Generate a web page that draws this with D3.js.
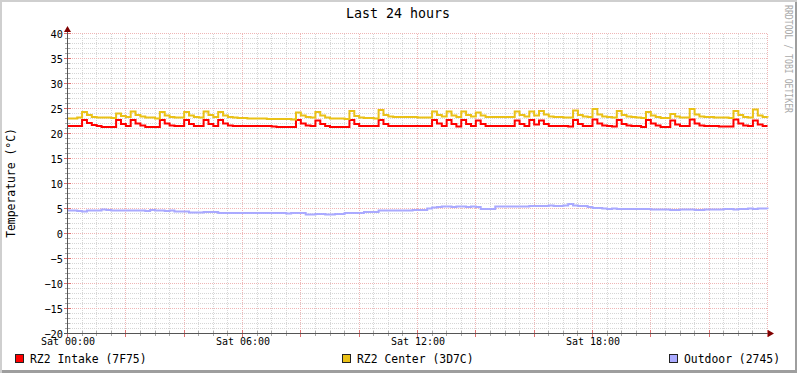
<!DOCTYPE html>
<html>
<head>
<meta charset="utf-8">
<script src="https://cdn.jsdelivr.net/npm/d3@7"></script>
<style>
  body { margin: 0; background: #fff; }
  svg text { font-family: "DejaVu Sans Mono", monospace; }
</style>
</head>
<body>
<svg width="797" height="373"></svg>
<script>
// 10 minute samples, Sat 00:00 -> Sun 00:00
var intake = [
  21.5, 21.5, 21.5, 22.7, 22.1, 21.7, 21.5, 21.3, 21.3, 21.3,
  22.7, 21.9, 21.5, 22.7, 22.0, 21.6, 21.3, 21.3, 21.3, 22.7,
  22.0, 21.6, 21.5, 21.5, 22.7, 21.9, 21.5, 21.5, 22.7, 21.9,
  21.5, 22.7, 22.0, 21.6, 21.5, 21.5, 21.5, 21.5, 21.5, 21.5,
  21.5, 21.5, 21.4, 21.3, 21.3, 21.3, 21.3, 22.7, 22.0, 21.6,
  21.5, 22.6, 21.9, 21.5, 21.3, 21.3, 21.3, 21.3, 22.7, 21.9,
  21.5, 21.5, 21.5, 21.5, 22.7, 21.9, 21.5, 21.5, 21.5, 21.5,
  21.5, 21.5, 21.5, 21.5, 21.5, 22.7, 22.0, 21.5, 22.7, 21.9,
  21.4, 22.7, 21.9, 21.5, 22.6, 21.9, 21.5, 21.5, 21.5, 21.5,
  21.5, 21.5, 22.6, 21.9, 21.5, 22.7, 21.8, 22.6, 21.9, 21.5,
  21.5, 21.5, 21.5, 21.4, 22.7, 21.9, 21.5, 21.5, 22.8, 22.0,
  21.6, 21.5, 21.4, 22.7, 21.9, 21.6, 21.5, 21.5, 21.3, 22.7,
  22.0, 21.6, 21.3, 21.3, 22.6, 21.8, 21.5, 21.5, 22.8, 22.0,
  21.6, 21.5, 21.5, 21.5, 21.4, 21.4, 21.4, 22.8, 22.0, 21.6,
  21.5, 22.6, 21.8, 21.5, 21.5
];
var center = [
  23.0, 23.0, 23.2, 24.3, 23.7, 23.3, 23.2, 23.2, 23.2, 23.1,
  24.0, 23.5, 23.3, 24.4, 23.7, 23.4, 23.2, 23.2, 23.0, 24.3,
  23.6, 23.3, 23.2, 23.2, 24.3, 23.6, 23.3, 23.2, 24.4, 23.7,
  23.3, 24.3, 23.6, 23.3, 23.2, 23.1, 23.1, 23.0, 23.0, 23.0,
  23.0, 22.9, 22.9, 22.9, 22.9, 22.9, 22.8, 24.2, 23.6, 23.3,
  23.2, 24.3, 23.6, 23.2, 23.0, 23.0, 23.0, 22.9, 24.5, 23.5,
  23.2, 23.1, 23.1, 23.0, 24.7, 23.7, 23.4, 23.3, 23.3, 23.3,
  23.3, 23.3, 23.2, 23.2, 23.2, 24.4, 23.7, 23.4, 24.4, 23.6,
  23.3, 24.4, 23.7, 23.4, 24.2, 23.6, 23.3, 23.3, 23.3, 23.3,
  23.3, 23.3, 24.4, 23.7, 23.4, 24.4, 23.6, 24.5, 23.8, 23.4,
  23.3, 23.3, 23.2, 23.2, 24.6, 23.7, 23.4, 23.3, 24.9, 23.8,
  23.4, 23.3, 23.2, 24.5, 23.7, 23.4, 23.3, 23.2, 23.1, 24.3,
  23.6, 23.3, 23.1, 23.1, 23.9, 23.4, 23.2, 23.2, 24.9, 23.8,
  23.4, 23.3, 23.3, 23.2, 23.2, 23.2, 23.1, 24.5, 23.7, 23.3,
  23.2, 24.8, 23.6, 23.3, 23.2
];
var outdoor = [
  4.6, 4.6, 4.5, 4.4, 4.6, 4.6, 4.6, 4.8, 4.7, 4.6,
  4.6, 4.6, 4.6, 4.6, 4.6, 4.6, 4.5, 4.7, 4.6, 4.6,
  4.5, 4.6, 4.4, 4.4, 4.4, 4.2, 4.2, 4.2, 4.3, 4.3,
  4.3, 4.1, 4.1, 4.1, 4.1, 4.1, 4.1, 4.1, 4.1, 4.1,
  4.1, 4.1, 4.1, 4.1, 4.1, 4.0, 4.1, 4.1, 4.1, 3.8,
  3.8, 3.9, 3.9, 3.8, 3.8, 3.9, 3.9, 4.1, 4.1, 4.1,
  4.1, 4.3, 4.3, 4.3, 4.6, 4.6, 4.6, 4.6, 4.6, 4.6,
  4.6, 4.7, 4.7, 4.7, 5.0, 5.2, 5.3, 5.4, 5.4, 5.3,
  5.4, 5.4, 5.3, 5.4, 5.3, 4.9, 4.9, 4.9, 5.4, 5.4,
  5.4, 5.4, 5.4, 5.4, 5.4, 5.5, 5.5, 5.5, 5.5, 5.6,
  5.5, 5.5, 5.6, 5.9, 5.6, 5.5, 5.5, 5.3, 5.1, 5.1,
  5.0, 4.9, 5.0, 4.9, 4.9, 4.9, 4.9, 4.9, 4.9, 4.9,
  4.8, 4.8, 4.8, 4.8, 4.7, 4.7, 4.8, 4.8, 4.8, 4.7,
  4.7, 4.8, 4.8, 4.8, 4.8, 4.9, 4.9, 4.8, 4.9, 4.9,
  5.0, 4.9, 5.0, 5.0, 4.9
];
var seriesNames = ["RZ2 Intake (7F75)", "RZ2 Center (3D7C)", "Outdoor (2745)"];
var seriesColors = ["#FF0000", "#EAC117", "#AAAAFF"];
var yTicks = [-20, -15, -10, -5, 0, 5, 10, 15, 20, 25, 30, 35, 40];

var W = 797, H = 373;
var svg = d3.select("svg");

var start = Date.UTC(2011, 0, 1, 0, 0),   // a Saturday
    end = start + 24 * 3600 * 1000;

var x = d3.scaleUtc().domain([start, end]).range([67.5, 767.5]);
var y = d3.scaleLinear().domain([-20, 40]).range([333.5, 33.5]);

// frame
svg.append("rect").attr("width", W).attr("height", H).attr("fill", "#cfcfcf");
svg.append("rect").attr("x", 2).attr("y", 2).attr("width", W - 2).attr("height", H - 2).attr("fill", "#9e9e9e");
svg.append("rect").attr("x", 2).attr("y", 2).attr("width", W - 4).attr("height", H - 5).attr("fill", "#ffffff");

// grid
var grid = svg.append("g").attr("shape-rendering", "crispEdges");
var minorY = d3.range(-20, 41, 1).filter(function(v) { return v % 5 != 0; });
var minorX = d3.utcMinute.every(30).range(new Date(start), new Date(end + 1))
    .filter(function(d) { return d.getUTCMinutes() != 0 || d.getUTCHours() % 2 != 0; });
var majorX = d3.utcHour.every(2).range(new Date(start), new Date(end + 1));

grid.selectAll(".hmin").data(minorY).enter().append("line")
    .attr("x1", 67.5).attr("x2", 767.5)
    .attr("y1", y).attr("y2", y)
    .attr("stroke", "#d6d6d6").attr("stroke-dasharray", "1,1");
grid.selectAll(".vmin").data(minorX).enter().append("line")
    .attr("x1", x).attr("x2", x)
    .attr("y1", 33.5).attr("y2", 333.5)
    .attr("stroke", "#d6d6d6").attr("stroke-dasharray", "1,1");
grid.selectAll(".hmaj").data(yTicks).enter().append("line")
    .attr("x1", 67.5).attr("x2", 767.5)
    .attr("y1", y).attr("y2", y)
    .attr("stroke", "#efb6b6").attr("stroke-dasharray", "1,1");
grid.selectAll(".vmaj").data(majorX).enter().append("line")
    .attr("x1", x).attr("x2", x)
    .attr("y1", 33.5).attr("y2", 333.5)
    .attr("stroke", "#efb6b6").attr("stroke-dasharray", "1,1");

// tick marks
grid.selectAll(".ty").data(minorY).enter().append("line")
    .attr("x1", 65).attr("x2", 70).attr("y1", y).attr("y2", y).attr("stroke", "#aaa");
grid.selectAll(".tyM").data(yTicks).enter().append("line")
    .attr("x1", 64).attr("x2", 71).attr("y1", y).attr("y2", y).attr("stroke", "#e07070");
grid.selectAll(".tx").data(minorX).enter().append("line")
    .attr("x1", x).attr("x2", x).attr("y1", 331).attr("y2", 336).attr("stroke", "#aaa");
grid.selectAll(".txM").data(majorX).enter().append("line")
    .attr("x1", x).attr("x2", x).attr("y1", 330).attr("y2", 337).attr("stroke", "#e07070");

// data lines
var times = intake.map(function(v, i) { return start + i * 600000; });
[intake, center, outdoor].forEach(function(s, k) {
  var line = d3.line()
      .x(function(d, i) { return x(times[i]); })
      .y(function(d) { return y(d); })
      .curve(d3.curveStepAfter);
  svg.append("path")
      .datum(s)
      .attr("fill", "none")
      .attr("stroke", seriesColors[k])
      .attr("stroke-width", 2)
      .attr("d", line);
});

// axes lines + arrows
var ax = svg.append("g").attr("shape-rendering", "crispEdges");
ax.append("line").attr("x1", 67.5).attr("x2", 67.5).attr("y1", 334).attr("y2", 30).attr("stroke", "#555");
ax.append("line").attr("x1", 64).attr("x2", 770).attr("y1", 333.5).attr("y2", 333.5).attr("stroke", "#555");
svg.append("path").attr("d", "M64,32L67.5,26L71,32Z").attr("fill", "#800000");
svg.append("path").attr("d", "M768,330L774,333.5L768,337Z").attr("fill", "#800000");

// axis labels
var yAxis = svg.append("g")
    .attr("transform", "translate(63,0)")
    .call(d3.axisLeft(y).tickValues(yTicks).tickSize(0).tickPadding(0));
yAxis.select(".domain").remove();
yAxis.selectAll("text").attr("font-size", 10.3).attr("fill", "#000")
    .attr("font-family", "DejaVu Sans Mono").attr("dy", "0.34em");

var xTicks = d3.utcHour.every(6).range(new Date(start), new Date(end));
var xAxis = svg.append("g")
    .attr("transform", "translate(0,338)")
    .call(d3.axisBottom(x).tickValues(xTicks).tickSize(0).tickPadding(0)
      .tickFormat(d3.utcFormat("%a %H:%M")));
xAxis.select(".domain").remove();
xAxis.selectAll("text").attr("font-size", 10).attr("fill", "#000")
    .attr("font-family", "DejaVu Sans Mono").attr("dy", "0.74em");

// title
svg.append("text").attr("x", 398).attr("y", 18).attr("text-anchor", "middle")
    .attr("font-size", 13.3).attr("fill", "#000").text("Last 24 hours");

// y label
svg.append("text").attr("transform", "translate(15,183) rotate(-90)")
    .attr("text-anchor", "middle").attr("font-size", 11.4).attr("fill", "#000")
    .text("Temperature (°C)");

// watermark
svg.append("text").attr("transform", "translate(785,5) rotate(90)")
    .attr("font-size", 10.5).attr("fill", "#aaa")
    .attr("textLength", 108).attr("lengthAdjust", "spacingAndGlyphs")
    .text("RRDTOOL / TOBI OETIKER");

// legend
var legendX = [15, 342, 669];
seriesNames.forEach(function(n, k) {
  svg.append("rect").attr("x", legendX[k] + 0.5).attr("y", 354.5).attr("width", 8).attr("height", 8)
      .attr("fill", seriesColors[k]).attr("stroke", "#222");
  svg.append("text").attr("x", legendX[k] + 15).attr("y", 362.5)
      .attr("font-size", 11.4).attr("fill", "#000").text(n);
});
</script>
</body>
</html>
